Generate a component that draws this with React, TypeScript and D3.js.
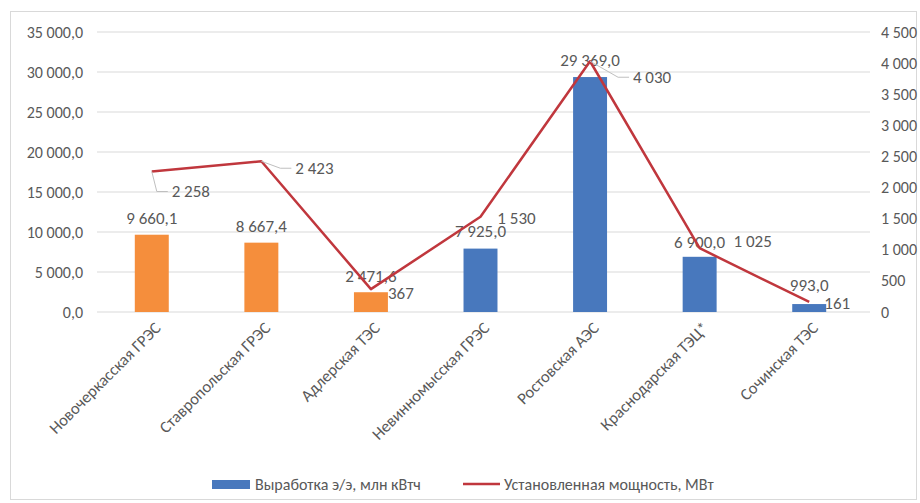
import { useMemo } from "react";
import * as d3 from "d3";

const categories = [
  "Новочеркасская ГРЭС",
  "Ставропольская ГРЭС",
  "Адлерская ТЭС",
  "Невинномысская ГРЭС",
  "Ростовская АЭС",
  "Краснодарская ТЭЦ*",
  "Сочинская ТЭС",
];
const output = [9660.1, 8667.4, 2471.6, 7925.0, 29369.0, 6900.0, 993.0];
const capacity = [2258, 2423, 367, 1530, 4030, 1025, 161];
const leftTicks = [0, 5000, 10000, 15000, 20000, 25000, 30000, 35000];
const rightTicks = [0, 500, 1000, 1500, 2000, 2500, 3000, 3500, 4000, 4500];
const seriesNames = ["Выработка э/э, млн кВтч", "Установленная мощность, МВт"];

// label placement, moved by hand like in the original sheet
const barLabelDy = [-17, -17, -16, -18, -17, -15, -19];
const lineLabelOffset = [
  [39, 20],
  [53, 7],
  [30, 4],
  [36, 1],
  [62, 16],
  [53, -7],
  [28, 1],
];
const leaders = [true, true, false, false, true, false, false];

const ORANGE = "#f58e3c";
const BLUE = "#4878bd";
const RED = "#c0373d";
const TEXT = "#595959";
const FONT = "Carlito, Calibri, 'Open Sans', sans-serif";

const W = 920;
const H = 503;
const M = { left: 97, right: 864, top: 32, bottom: 312 };

const fmtLeft = (v: number) =>
  d3.format(",.1f")(v).replace(/,/g, " ").replace(".", ",");
const fmtRight = (v: number) => d3.format(",")(v).replace(/,/g, " ");

export default function App() {
  const x = useMemo(
    () => d3.scaleBand().domain(categories).range([M.left, M.right]).paddingInner(0.69).paddingOuter(0.345),
    []
  );
  const yL = d3.scaleLinear().domain([0, 35000]).range([M.bottom, M.top]);
  const yR = d3.scaleLinear().domain([0, 4500]).range([M.bottom, M.top]);
  const cx = (c: string) => (x(c) ?? 0) + x.bandwidth() / 2;

  const linePath = d3
    .line<number>()
    .x((_, i) => cx(categories[i]))
    .y((d) => yR(d))(capacity);

  return (
    <svg width={W} height={H} style={{ position: "absolute", left: 0, top: 0 }} fontFamily={FONT}>
      <rect x={0} y={0} width={W} height={H} fill="#fff" />
      <rect x={10.5} y={11.5} width={906} height={488} fill="none" stroke="#d9d9d9" />

      {leftTicks.map((t) => (
        <g key={t}>
          <line x1={M.left} x2={M.right + 6} y1={yL(t)} y2={yL(t)} stroke="#d9d9d9" />
          <text x={83} y={yL(t)} dy="0.35em" textAnchor="end" fontSize={16} fill={TEXT}>
            {fmtLeft(t)}
          </text>
        </g>
      ))}
      {rightTicks.map((t) => (
        <text key={t} x={881} y={yR(t)} dy="0.35em" textAnchor="start" fontSize={16} fill={TEXT}>
          {fmtRight(t)}
        </text>
      ))}

      {output.map((v, i) => (
        <rect
          key={i}
          x={x(categories[i])}
          y={yL(v)}
          width={x.bandwidth()}
          height={yL(0) - yL(v)}
          fill={i < 3 ? ORANGE : BLUE}
        />
      ))}

      {output.map((v, i) => (
        <text
          key={i}
          x={cx(categories[i])}
          y={yL(v) + barLabelDy[i]}
          dy="0.35em"
          textAnchor="middle"
          fontSize={17}
          fill={TEXT}
        >
          {fmtLeft(v)}
        </text>
      ))}

      <path d={linePath ?? ""} fill="none" stroke={RED} strokeWidth={2.5} strokeLinejoin="round" />

      {capacity.map((v, i) => {
        const px = cx(categories[i]);
        const py = yR(v);
        const lx = px + lineLabelOffset[i][0];
        const ly = py + lineLabelOffset[i][1];
        const tw = fmtRight(v).length * 8;
        return (
          <g key={i}>
            {leaders[i] && (
              <polyline
                points={`${px},${py} ${lx - tw / 2 - 14},${ly} ${lx - tw / 2 - 3},${ly}`}
                fill="none"
                stroke="#bfbfbf"
              />
            )}
            <text x={lx} y={ly} dy="0.35em" textAnchor="middle" fontSize={17} fill={TEXT}>
              {fmtRight(v)}
            </text>
          </g>
        );
      })}

      {categories.map((c) => (
        <text
          key={c}
          transform={`translate(${cx(c) + 10},${M.bottom + 17}) rotate(-45)`}
          textAnchor="end"
          fontSize={16.5}
          fill={TEXT}
        >
          {c}
        </text>
      ))}

      <g fontSize={16} fill={TEXT}>
        <rect x={212} y={480} width={38} height={9} fill={BLUE} />
        <text x={255} y={484} dy="0.35em">
          {seriesNames[0]}
        </text>
        <line x1={463} x2={500} y1={484} y2={484} stroke={RED} strokeWidth={2.5} />
        <text x={504} y={484} dy="0.35em">
          {seriesNames[1]}
        </text>
      </g>
    </svg>
  );
}
